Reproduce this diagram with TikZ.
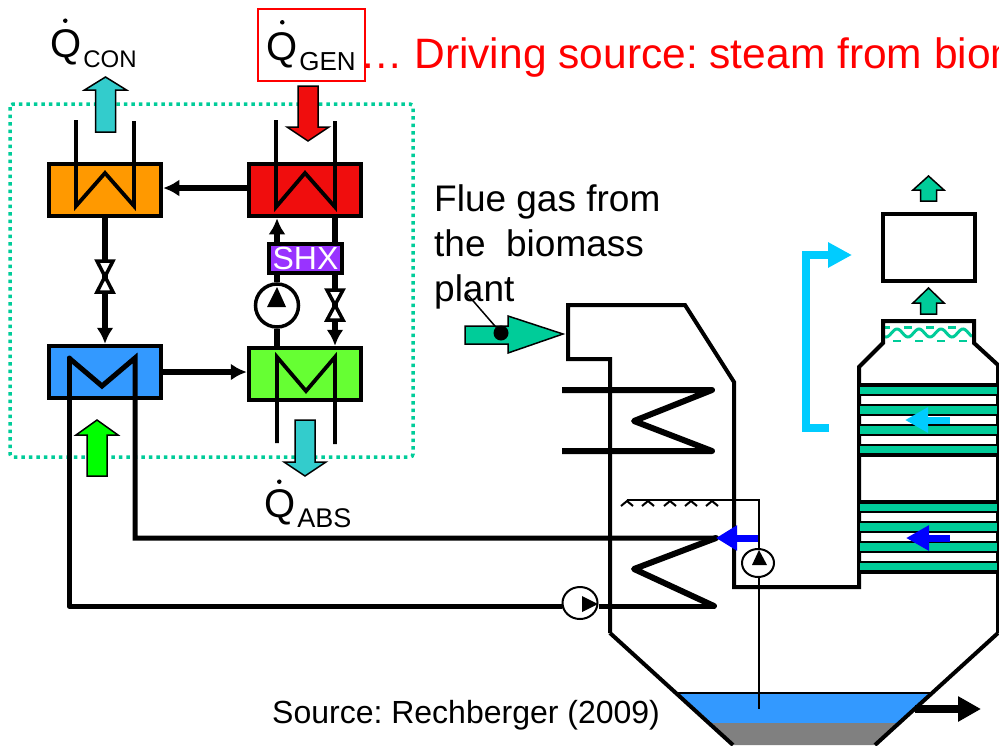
\documentclass[tikz,border=0pt]{standalone}
\usepackage{fontspec}
\usepackage{xcolor}
\setmainfont{Liberation Sans}
\usetikzlibrary{arrows.meta,shapes.geometric}
\definecolor{gasgreen}{HTML}{00CC99}
\definecolor{coolteal}{HTML}{33CCCC}
\definecolor{genred}{HTML}{F00D0D}
\definecolor{conorange}{HTML}{FF9900}
\definecolor{absblue}{HTML}{3399FF}
\definecolor{solgreen}{HTML}{66FF33}
\definecolor{shxviolet}{HTML}{9933FF}
\definecolor{waterblue}{HTML}{00CCFF}
\frenchspacing
\newcommand{\heatlabel}[2]{{\fontsize{40}{40}\selectfont Q}\kern2pt{\fontsize{#1}{#1}\selectfont\raisebox{-10pt}{#2}}}
\newcommand{\blockarrow}[7]{\draw[blockline,fill=#1] (#2,#3)--(#2+#6,#4)--(#2+#7,#4)--(#2+#7,#5)--(#2-#7,#5)--(#2-#7,#4)--(#2-#6,#4)--cycle;}
\tikzset{
  hxbox/.style={draw,line width=4.5pt,minimum width=112pt,minimum height=52pt,inner sep=0pt},
  blockline/.style={draw,line width=1.5pt,miter limit=10},
  pipe/.style={line width=3.8pt},
  flow/.style={line width=5.5pt,-{Latex[length=16pt,width=17pt]}},
  wallline/.style={line width=4pt,line join=miter},
  coilline/.style={line width=6pt,line join=round,line cap=round},
  valvebox/.style={draw,line width=3.5pt,fill=white},
  pumpring/.style={ellipse,draw,fill=white,inner sep=0pt},
  labeltext/.style={font=\fontsize{37}{45}\selectfont,inner sep=0pt},
  rateddot/.style={circle,fill=black,minimum size=4.5pt,inner sep=0pt}
}
\begin{document}
\begin{tikzpicture}[x=1pt,y=-1pt]
        \useasboundingbox (0,0) rectangle (999,745);
        \clip (0,0) rectangle (999,745);
        \draw[gasgreen,line width=3.5pt,dash pattern=on 3.5pt off 4pt,rounded corners=3pt] (10,104) rectangle (413,457);
        % heat pump boxes
        \node[hxbox,fill=conorange] (con) at (105,190) {};
        \node[hxbox,fill=genred] (gen) at (305,190) {};
        \node[hxbox,fill=absblue] (abs) at (105,372) {};
        \node[hxbox,fill=solgreen] (sol) at (305,374) {};
        \node[draw,line width=4pt,fill=shxviolet,text=white,font=\fontsize{32}{32}\selectfont,minimum width=73pt,minimum height=29pt,inner sep=0pt] (shx) at (305.5,258.5) {SHX};
        \node[pumpring,line width=3.5pt,minimum size=43pt] (pump1) at (277,305.5) {};
        \draw[flow] ([yshift=2pt]gen.west)--([yshift=2pt]con.east);
        \draw[flow] (abs.east)--([yshift=2pt]sol.west);
        \draw[flow] (con.south)--(abs.north);
        \draw[flow] (shx.north -| 277,0)--(gen.south -| 277,0);
        \draw[line width=5.5pt] (sol.north -| pump1)--(pump1.south);
        \draw[line width=5.5pt] (pump1.north)--(shx.south -| pump1);
        \fill (267,307)--(286,307)--(277,287)--cycle;
        \draw[line width=5.5pt] (gen.south -| 335,0)--(shx.north -| 335,0);
        \draw[flow] (shx.south -| 335,0)--(sol.north -| 335,0);
        \draw[valvebox] (97,261)--(113,261)--(97,292)--(113,292)--cycle;
        \draw[valvebox] (327,290)--(343,290)--(327,320)--(343,320)--cycle;
        \draw[pipe] (76,120)--(76,206)--(105,173)--(134,206)--(134,121);
        \draw[pipe] (276,120)--(276,207)--(305,173)--(335,207)--(335,121);
        \draw[pipe] (277,443)--(277,357)--(306,391)--(335,357)--(335,444);
        \blockarrow{coolteal}{105.5}{77}{90}{132}{21}{10}
        \blockarrow{genred}{308}{141}{127}{86}{21}{10}
        \blockarrow{green}{97}{420}{435}{476}{21}{10}
        \blockarrow{coolteal}{305}{476}{462}{420}{21}{10}
        \blockarrow{gasgreen}{928.5}{176}{190}{201}{15.5}{8}
        \blockarrow{gasgreen}{928.5}{288}{303}{314}{15.5}{8}
        \draw[blockline,fill=gasgreen] (465,326)--(508,326)--(508,316)--(563,334)--(508,353)--(508,344)--(465,344)--cycle;
        % plant outline
        \draw[gasgreen,line width=3pt] plot[domain=885:972,samples=70] (\x,{333-4*cos(16.364*(\x-897))});
        \foreach \x in {897,919,941,963}
          \draw[gasgreen,line width=2.5pt] (\x-4,341)--(\x+4,341);
        \foreach \x in {886,908,930,952}
          \draw[gasgreen,line width=2.5pt] (\x-4,327.5)--(\x+4,327.5);
        \draw[wallline] (610,633)--(610,359)--(568,359)--(568,305)--(685,305)--(734,382)--(734,587)--(859,587)--(859,367)--(883,343)--(883,321)--(974,321)--(974,343)--(998,365)--(998,633);
        \foreach \y in {385,405,425,445,502,522,542,562}
          \draw[line width=1.8pt,fill=gasgreen] (859,\y)rectangle(998,\y+10);
        \draw[line width=3.5pt] (859,385)--(998,385) (859,455)--(998,455) (859,502)--(998,502) (859,572)--(998,572);
        \fill[absblue] (678,693)--(930,693)--(897,723)--(712,723)--cycle;
        \fill[gray] (712,723)--(897,723)--(875,745)--(733,745)--cycle;
        \draw[line width=1.5pt] (678,693)--(930,693);
        \draw[wallline] (610,633)--(733,745);
        \draw[wallline] (998,633)--(875,745);
        \coordinate (hopperout) at (915,709);
        \coordinate (hopperend) at (981,709);
        \draw[line width=8pt,-{Triangle[length=23pt,width=24pt]}] (hopperout)--(hopperend);
        % coils and circulation
        \draw[coilline,line cap=butt] (562,390)--(712,390)--(634,421)--(712,451)--(562,451);
        \node[pumpring,line width=2pt,minimum width=35pt,minimum height=32pt] (pump2) at (580,603) {};
        \draw[line width=5pt,line join=miter] (69,358)--(102,386)--(135,358)--(135,538)--(716,538);
        \draw[line width=5pt,line cap=round,line join=round] (69,358)--(69,606)--([yshift=-3pt]pump2.west);
        \draw[line width=5pt] ([yshift=-3pt]pump2.east)--(714,606);
        \draw[coilline] (716,538)--(634,569)--(714,606);
        \fill (582,596)--(598,604)--(582,612)--cycle;
        \draw[line width=2.5pt] (627,500)--(759,500)--(759,709);
        \foreach \x in {627,648,670,691,712}
          \draw[line width=2pt] (\x-6,506)--(\x,501)--(\x+6,506);
        \node[pumpring,line width=2pt,minimum width=32pt,minimum height=28pt] (pump3) at (758,563) {};
        \fill (752,565)--(767,565)--(759,550)--cycle;
        % water lines
        \coordinate (brackstart) at (829,428);
        \coordinate (brackend) at (852,255);
        \draw[waterblue,line width=8pt,line join=miter,-{Triangle[length=24pt,width=24pt]}] (brackstart)--(806,428)--(806,255)--(brackend);
        \coordinate (cyanstart) at (950,420);
        \coordinate (cyanend) at (905,420);
        \draw[waterblue,line width=7pt,-{Triangle[length=23pt,width=24pt]}] (cyanstart)--(cyanend);
        \coordinate (bluestartA) at (950,538);
        \coordinate (blueendA) at (906,538);
        \draw[blue,line width=7pt,-{Triangle[length=23pt,width=24pt]}] (bluestartA)--(blueendA);
        \coordinate (bluestartB) at (758,538);
        \coordinate (blueendB) at (716,538);
        \draw[blue,line width=7pt,-{Triangle[length=21pt,width=24pt]}] (bluestartB)--(blueendB);
        \node[draw,line width=3.5pt,fill=white,minimum width=92pt,minimum height=67pt,inner sep=0pt] (stack) at (929,247.5) {};
        % texts
        \node[anchor=base west,inner sep=0pt] (qcon) at (50,57) {\heatlabel{24}{CON}};
        \node[rateddot] (qcondot) at (65.3,20.7) {};
        \node[anchor=base west,inner sep=0pt] (qgen) at (266,60) {\heatlabel{26}{GEN}};
        \node[rateddot] (qgendot) at (282.3,22.3) {};
        \node[anchor=base west,inner sep=0pt] (qabs) at (264,517) {\heatlabel{27}{ABS}};
        \node[rateddot] (qabsdot) at (279.3,481.7) {};
        \node[draw=red,line width=1.5pt,minimum width=107pt,minimum height=72pt,inner sep=0pt] (genbox) at (311.5,45) {};
        \node[anchor=base west,inner sep=0pt,text=red,font=\fontsize{42.5}{42.5}\selectfont] (drive) at (360,68) {…\ Driving source: steam from biomass};
        \node[labeltext,anchor=north west,align=left] (flue) at (434,184.5) {Flue gas from\\the\ \ biomass\\plant};
        \node[anchor=base west,inner sep=0pt,font=\fontsize{32}{32}\selectfont] (src) at (272,723) {Source: Rechberger (2009)};
        \coordinate (leadstart) at (468,295);
        \node[circle,fill=black,minimum size=15pt,inner sep=0pt] (leaddot) at (501,333) {};
        \draw[line width=1.5pt] (leadstart)--(leaddot);
      \end{tikzpicture}
\end{document}
